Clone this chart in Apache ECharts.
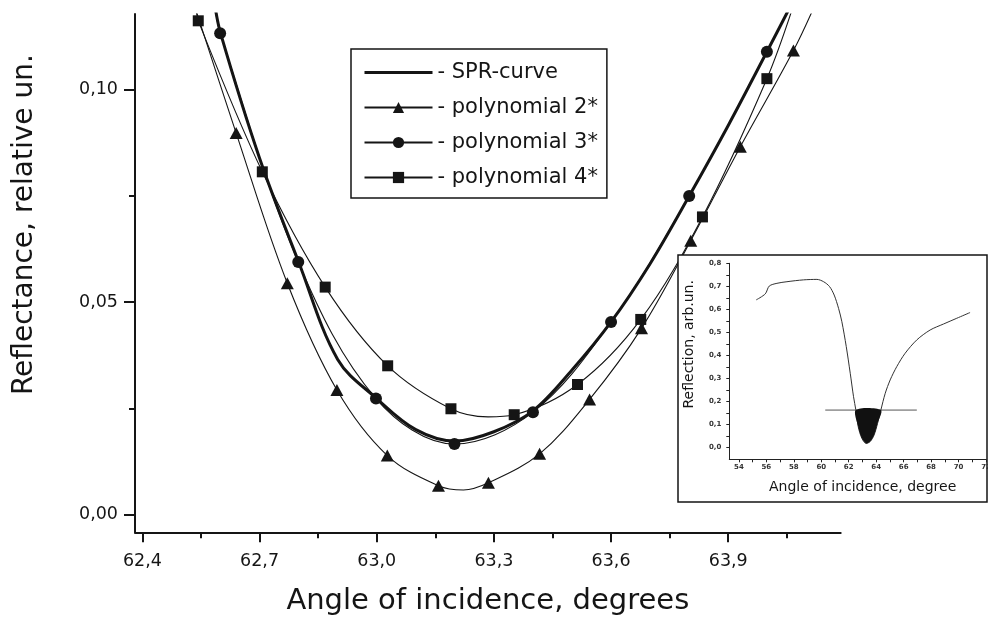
<!DOCTYPE html>
<html>
<head>
<meta charset="utf-8">
<script src="https://cdn.jsdelivr.net/npm/echarts@6/dist/echarts.min.js"></script>
<style>
html,body{margin:0;padding:0;background:#fff;}
#chart{width:988px;height:617px;}
</style>
</head>
<body>
<div id="chart"></div>
<script>
// ---------- main chart data ----------
const xTicks = [62.4, 62.7, 63.0, 63.3, 63.6, 63.9];
const xMinorTicks = [62.55, 62.85, 63.15, 63.45, 63.75, 64.05];
const yTicks = [0.00, 0.05, 0.10];
const yMinorTicks = [0.025, 0.075];

const seriesNames = ['SPR-curve', 'polynomial 2*', 'polynomial 3*', 'polynomial 4*'];

// SPR-curve (thick line, no markers)
const sprX = [62.585, 62.6, 62.7, 62.8, 62.9, 63.0, 63.1, 63.2, 63.3, 63.4, 63.5, 63.6, 63.7, 63.8, 63.9, 64.0, 64.062];
const sprY = [0.1200, 0.1132, 0.0838, 0.0594, 0.0365, 0.0273, 0.0200, 0.0173, 0.0195, 0.0244, 0.0340, 0.0453, 0.0590, 0.0749, 0.0915, 0.1090, 0.1200];

// polynomial 2* (triangles)
const poly2X = [62.640, 62.771, 62.898, 63.027, 63.158, 63.286, 63.417, 63.545, 63.678, 63.804, 63.931, 64.067];
const poly2Y = [0.0897, 0.0544, 0.0293, 0.0139, 0.0068, 0.0075, 0.0143, 0.0271, 0.0438, 0.0644, 0.0865, 0.1091];
const poly2CurveX = [62.532, 63.222, 64.123];   // unmarked points of the fitted curve
const poly2CurveY = [0.1200, 0.0058, 0.1200];

// polynomial 3* (circles)
const poly3X = [62.599, 62.799, 62.998, 63.199, 63.400, 63.600, 63.800, 63.999];
const poly3Y = [0.1132, 0.0594, 0.0273, 0.0166, 0.0241, 0.0453, 0.0749, 0.1088];
const poly3CurveX = [62.585, 64.062];
const poly3CurveY = [0.1200, 0.1200];

// polynomial 4* (squares)
const poly4X = [62.543, 62.707, 62.868, 63.028, 63.190, 63.352, 63.514, 63.676, 63.834, 63.999];
const poly4Y = [0.1161, 0.0806, 0.0535, 0.0350, 0.0249, 0.0235, 0.0306, 0.0459, 0.0700, 0.1025];
const poly4CurveX = [62.538, 63.285, 64.068];
const poly4CurveY = [0.1195, 0.0230, 0.1200];

// ---------- inset data ----------
const insetXTicks = [54, 56, 58, 60, 62, 64, 66, 68, 70, 72];
const insetXMinor = [54, 55, 56, 57, 58, 59, 60, 61, 62, 63, 64, 65, 66, 67, 68, 69, 70, 71, 72];
const insetYTicks = [0.0, 0.1, 0.2, 0.3, 0.4, 0.5, 0.6, 0.7, 0.8];
const insetYMinor = [0, 0.05, 0.1, 0.15, 0.2, 0.25, 0.3, 0.35, 0.4, 0.45, 0.5, 0.55, 0.6, 0.65, 0.7, 0.75, 0.8];
const insetX = [55.26, 55.92, 56.21, 56.77, 57.5, 58.71, 59.68, 60.17, 60.6, 60.94, 61.26, 61.5, 61.82, 62.11, 62.35, 62.52, 62.69, 62.96, 63.27, 63.56, 63.85, 64.1, 64.34, 64.66, 65.02, 65.5, 66.11, 66.96, 67.93, 68.9, 69.87, 70.84];
const insetY = [0.641, 0.667, 0.701, 0.713, 0.720, 0.728, 0.730, 0.720, 0.699, 0.662, 0.604, 0.546, 0.438, 0.322, 0.220, 0.162, 0.090, 0.039, 0.017, 0.025, 0.054, 0.104, 0.162, 0.235, 0.293, 0.351, 0.409, 0.467, 0.510, 0.536, 0.561, 0.586];
const levelX = [60.29, 66.96];
const levelY = 0.162;

// ---------- helpers ----------
const FONT = 'DejaVu Sans';
const INK = '#151515';
function comma(v, d) { return v.toFixed(d).replace('.', ','); }
function pairs(xs, ys) { return xs.map((x, i) => [x, ys[i]]); }
function build(xs, ys, cx, cy) {
  const pts = xs.map((x, i) => ({ value: [x, ys[i]] }));
  cx.forEach((x, i) => pts.push({ value: [x, cy[i]], symbol: 'none' }));
  pts.sort((a, b) => a.value[0] - b.value[0]);
  return pts;
}
const dipPts = pairs(insetX, insetY).filter(p => p[1] <= levelY + 1e-9);

const mainX = { min: 62.381, max: 64.188 };
const mainY = { min: -0.00414, max: 0.1177 };

const chart = echarts.init(document.getElementById('chart'), null, { renderer: 'canvas' });

const thin = { color: INK, width: 1.1 };

const option = {
  animation: false,
  backgroundColor: '#fff',
  textStyle: { fontFamily: FONT },
  grid: [
    { left: 135, top: 14, right: 147.3, bottom: 84.7, containLabel: false, outerBoundsMode: 'none' },
    { left: 729.3, top: 263.3, width: 256.7, height: 196, containLabel: false, outerBoundsMode: 'none' }
  ],
  legend: {
    orient: 'vertical',
    left: 351, top: 49,
    padding: [13, 9, 10, 12],
    itemWidth: 68, itemHeight: 14, itemGap: 14,
    borderColor: INK, borderWidth: 1.5,
    selectedMode: false,
    formatter: '- {name}',
    textStyle: { fontFamily: FONT, fontSize: 21, color: INK },
    data: [
      { name: seriesNames[0], itemStyle: { color: 'rgba(0,0,0,0)', borderWidth: 0 }, lineStyle: { width: 3, color: INK } },
      { name: seriesNames[1] },
      { name: seriesNames[2] },
      { name: seriesNames[3] }
    ]
  },
  xAxis: [
    {
      type: 'value', gridIndex: 0, position: 'bottom', min: mainX.min, max: mainX.max,
      splitLine: { show: false },
      axisLine: { onZero: false, lineStyle: { color: INK, width: 2 } },
      axisTick: { length: 10, lineStyle: { color: INK, width: 2 }, customValues: xTicks },
      axisLabel: { customValues: xTicks, margin: 20, fontFamily: FONT, fontSize: 17.5, color: INK, formatter: v => comma(v, 1) },
      name: 'Angle of incidence, degrees', nameLocation: 'middle', nameGap: 55,
      nameTextStyle: { fontFamily: FONT, fontSize: 29, color: INK }
    },
    {
      type: 'value', gridIndex: 0, position: 'bottom', min: mainX.min, max: mainX.max,
      splitLine: { show: false },
      axisLine: { show: false, onZero: false },
      axisTick: { length: 6, lineStyle: { color: INK, width: 2 }, customValues: xMinorTicks },
      axisLabel: { show: false }
    },
    {
      type: 'value', gridIndex: 1, position: 'bottom', min: 53.3, max: 72, z: 60,
      splitLine: { show: false },
      axisLine: { onZero: false, lineStyle: { color: '#222', width: 1 } },
      axisTick: { length: 3, lineStyle: { color: '#222', width: 1 }, customValues: insetXMinor },
      axisLabel: { customValues: insetXTicks, margin: 4, fontFamily: FONT, fontSize: 7, fontWeight: 'bold', color: '#333' },
      name: 'Angle of incidence, degree', nameLocation: 'middle', nameGap: 21,
      nameTextStyle: { fontFamily: FONT, fontSize: 14, color: INK, padding: [0, 0, 0, 10] }
    }
  ],
  yAxis: [
    {
      type: 'value', gridIndex: 0, position: 'left', min: mainY.min, max: mainY.max,
      splitLine: { show: false },
      axisLine: { onZero: false, lineStyle: { color: INK, width: 2 } },
      axisTick: { length: 11, lineStyle: { color: INK, width: 2 }, customValues: yTicks },
      axisLabel: { customValues: yTicks, margin: 17, fontFamily: FONT, fontSize: 17.5, color: INK, formatter: v => comma(v, 2) },
      name: 'Reflectance, relative un.', nameLocation: 'middle', nameGap: 96,
      nameTextStyle: { fontFamily: FONT, fontSize: 28, color: INK, padding: [0, 0, 0, 97] }
    },
    {
      type: 'value', gridIndex: 0, position: 'left', min: mainY.min, max: mainY.max,
      splitLine: { show: false },
      axisLine: { show: false, onZero: false },
      axisTick: { length: 6, lineStyle: { color: INK, width: 2 }, customValues: yMinorTicks },
      axisLabel: { show: false }
    },
    {
      type: 'value', gridIndex: 1, position: 'left', min: -0.052, max: 0.8, z: 60,
      splitLine: { show: false },
      axisLine: { onZero: false, lineStyle: { color: '#222', width: 1 } },
      axisTick: { length: 3, lineStyle: { color: '#222', width: 1 }, customValues: insetYMinor },
      axisLabel: { customValues: insetYTicks, margin: 8, fontFamily: FONT, fontSize: 7, fontWeight: 'bold', color: '#333', formatter: v => comma(v, 1) },
      name: 'Reflection, arb.un.', nameLocation: 'middle', nameGap: 33,
      nameTextStyle: { fontFamily: FONT, fontSize: 14, color: INK, padding: [0, 0, 0, 34] }
    }
  ],
  graphic: [
    { type: 'rect', z: 50, silent: true,
      shape: { x: 678, y: 255, width: 309, height: 247 },
      style: { fill: '#fff', stroke: INK, lineWidth: 1.5 } }
  ],
  series: [
    {
      name: seriesNames[0], type: 'line', xAxisIndex: 0, yAxisIndex: 0,
      data: pairs(sprX, sprY), smooth: 0.35, symbol: 'circle', symbolSize: 0, showSymbol: false,
      lineStyle: { color: INK, width: 3 }, itemStyle: { color: INK }, z: 3
    },
    {
      name: seriesNames[1], type: 'line', xAxisIndex: 0, yAxisIndex: 0,
      data: build(poly2X, poly2Y, poly2CurveX, poly2CurveY), smooth: 0.35, showAllSymbol: true,
      symbol: 'triangle', symbolSize: [13, 12],
      lineStyle: thin, itemStyle: { color: INK }
    },
    {
      name: seriesNames[2], type: 'line', xAxisIndex: 0, yAxisIndex: 0,
      data: build(poly3X, poly3Y, poly3CurveX, poly3CurveY), smooth: 0.35, showAllSymbol: true,
      symbol: 'circle', symbolSize: 12,
      lineStyle: thin, itemStyle: { color: INK }
    },
    {
      name: seriesNames[3], type: 'line', xAxisIndex: 0, yAxisIndex: 0,
      data: build(poly4X, poly4Y, poly4CurveX, poly4CurveY), smooth: 0.35, showAllSymbol: true,
      symbol: 'rect', symbolSize: 11,
      lineStyle: thin, itemStyle: { color: INK }
    },
    // inset
    {
      name: 'inset', type: 'line', xAxisIndex: 2, yAxisIndex: 2, z: 60,
      data: pairs(insetX, insetY), smooth: 0.3, showSymbol: false, symbol: 'none',
      lineStyle: { color: '#333', width: 1 }
    },
    {
      name: 'level', type: 'line', xAxisIndex: 2, yAxisIndex: 2, z: 60,
      data: levelX.map(x => [x, levelY]), showSymbol: false, symbol: 'none',
      lineStyle: { color: '#555', width: 1 }
    },
    {
      name: 'dip', type: 'custom', xAxisIndex: 2, yAxisIndex: 2, z: 61, silent: true,
      data: dipPts,
      renderItem: function (params, api) {
        if (params.dataIndex !== 0) return null;
        const pts = dipPts.map(p => api.coord(p));
        return { type: 'polygon', shape: { points: pts, smooth: 0.3 }, style: { fill: '#111' } };
      }
    }
  ]
};
chart.setOption(option);
</script>
</body>
</html>
